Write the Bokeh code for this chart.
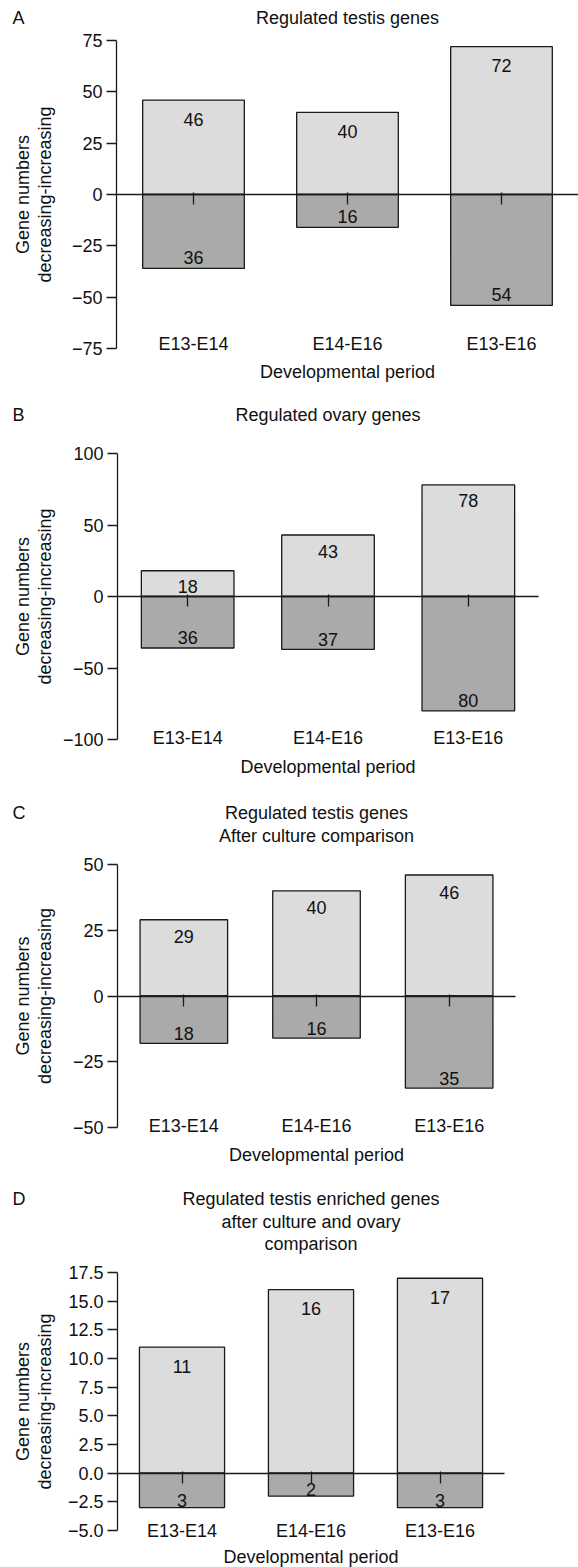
import math
from bokeh.plotting import figure
from bokeh.models import (Range1d, FixedTicker, CustomJSTickFormatter,
                          Label, LabelSet, ColumnDataSource)
from bokeh.layouts import column
from bokeh.embed import file_html
from bokeh.resources import INLINE
from bokeh.core.properties import value

# ---------------- data ----------------
periods = ["E13-E14", "E14-E16", "E13-E16"]
x_label = "Developmental period"
y_label_lines = ["Gene numbers", "decreasing-increasing"]

a_title = ["Regulated testis genes"]
a_up = [46, 40, 72]
a_down = [-36, -16, -54]
a_ticks = [-75, -50, -25, 0, 25, 50, 75]

b_title = ["Regulated ovary genes"]
b_up = [18, 43, 78]
b_down = [-36, -37, -80]
b_ticks = [-100, -50, 0, 50, 100]

c_title = ["Regulated testis genes", "After culture comparison"]
c_up = [29, 40, 46]
c_down = [-18, -16, -35]
c_ticks = [-50, -25, 0, 25, 50]

d_title = ["Regulated testis enriched genes", "after culture and ovary", "comparison"]
d_up = [11, 16, 17]
d_down = [-3, -2, -3]
d_ticks = [-5.0, -2.5, 0.0, 2.5, 5.0, 7.5, 10.0, 12.5, 15.0, 17.5]

# ---------------- style ----------------
FONT = "Liberation Sans"
FS = "18px"
TXT = "#111111"
LINE = "#1a1a1a"
UP_FILL = "#dcdcdc"
DOWN_FILL = "#aaaaaa"
PAGE_W = 578
BAR_W = 0.66


def panel(letter, title, up, down, ticks, dec, axis_x, fw, fig_top, fig_bottom,
          top, bottom, title_ys, xlab_gap, up_off, down_off, cat_off):
    n = len(periods)
    xs = [i + 0.5 for i in range(n)]
    H = fig_bottom - fig_top
    ymin, ymax = ticks[0], ticks[-1]
    ppx = fw / n
    ppy = (bottom - top) / (ymax - ymin)
    x_range = Range1d(-axis_x / ppx, (PAGE_W - axis_x) / ppx)
    y_range = Range1d(ymin - (fig_bottom - bottom) / ppy, ymax + (top - fig_top) / ppy)

    p = figure(x_range=x_range, y_range=y_range, width=PAGE_W, height=H,
               min_border_left=0, min_border_right=0, min_border_top=0,
               min_border_bottom=0, title=None, output_backend="svg",
               toolbar_location=None, tools="")
    p.outline_line_color = None
    p.xgrid.visible = False
    p.ygrid.visible = False
    p.background_fill_color = "white"
    p.border_fill_color = "white"

    p.vbar(x=xs, top=up, bottom=0, width=BAR_W, fill_color=UP_FILL,
           line_color=LINE, line_width=1.3)
    p.vbar(x=xs, top=0, bottom=down, width=BAR_W, fill_color=DOWN_FILL,
           line_color=LINE, line_width=1.3)

    p.text(x=xs, y=up, text=[str(v) for v in up], y_offset=up_off,
           text_font=value(FONT), text_font_size=FS, text_color=TXT,
           text_align="center", text_baseline="middle")
    p.text(x=xs, y=down, text=[str(abs(v)) for v in down], y_offset=down_off,
           text_font=value(FONT), text_font_size=FS, text_color=TXT,
           text_align="center", text_baseline="middle")

    # y axis, spanning only the tick range, at the left edge of the bar area
    ya = p.yaxis[0]
    ya.fixed_location = 0
    ya.bounds = (ymin, ymax)
    ya.ticker = FixedTicker(ticks=ticks)
    ya.formatter = CustomJSTickFormatter(
        code="const s = Math.abs(tick).toFixed(%d); return tick < 0 ? '\\u2212' + s : s;" % dec)
    ya.major_tick_out = 10
    ya.major_tick_in = 0
    ya.minor_tick_out = 0
    ya.minor_tick_in = 0
    ya.major_label_standoff = 4
    ya.axis_line_color = LINE
    ya.axis_line_width = 1.3
    ya.major_tick_line_color = LINE
    ya.major_tick_line_width = 1.3
    ya.major_label_text_font = FONT
    ya.major_label_text_font_size = FS
    ya.major_label_text_color = TXT

    # x axis drawn on the zero line, ticks at the bar centres, no labels
    xa = p.xaxis[0]
    xa.fixed_location = 0
    xa.bounds = (0, n)
    xa.ticker = FixedTicker(ticks=xs)
    xa.formatter = CustomJSTickFormatter(code="return '';")
    xa.major_tick_out = 10
    xa.major_tick_in = 2
    xa.minor_tick_out = 0
    xa.minor_tick_in = 0
    xa.axis_line_color = LINE
    xa.axis_line_width = 1.3
    xa.major_tick_line_color = LINE
    xa.major_tick_line_width = 1.3

    # category labels near the bottom of the value range
    src = ColumnDataSource(dict(x=xs, y=[ymin] * n, t=periods))
    p.add_layout(LabelSet(x="x", y="y", text="t", source=src, y_offset=cat_off,
                          text_font=value(FONT), text_font_size=value(FS),
                          text_color=value(TXT),
                          text_align="center", text_baseline="middle"))

    def lab(text, ax, ay, align="center", angle=0.0):
        p.add_layout(Label(x=ax, y=fig_bottom - ay, x_units="screen", y_units="screen",
                           text=text, text_font=FONT, text_font_size=FS,
                           text_color=TXT, text_align=align,
                           text_baseline="middle", angle=angle))

    cx = axis_x + fw / 2
    for t, yc in zip(title, title_ys):
        lab(t, cx, yc)
    lab(letter, 12, title_ys[0], align="left")
    mid = (top + bottom) / 2
    lab(y_label_lines[0], 22, mid, angle=math.pi / 2)
    lab(y_label_lines[1], 44, mid, angle=math.pi / 2)
    lab(x_label, cx, bottom + xlab_gap)
    return p


pA = panel("A", a_title, a_up, a_down, a_ticks, 0,
           axis_x=116, fw=462, fig_top=0, fig_bottom=395, top=40, bottom=348,
           title_ys=[17], xlab_gap=23, up_off=19, down_off=-11, cat_off=5)
pB = panel("B", b_title, b_up, b_down, b_ticks, 0,
           axis_x=117, fw=421, fig_top=395, fig_bottom=795, top=453, bottom=739,
           title_ys=[414], xlab_gap=27, up_off=16, down_off=-10, cat_off=2)
pC = panel("C", c_title, c_up, c_down, c_ticks, 0,
           axis_x=117, fw=398, fig_top=795, fig_bottom=1180, top=864, bottom=1127,
           title_ys=[812, 835], xlab_gap=27, up_off=17, down_off=-10, cat_off=2)
pD = panel("D", d_title, d_up, d_down, d_ticks, 1,
           axis_x=117, fw=387, fig_top=1180, fig_bottom=1567, top=1272, bottom=1530,
           title_ys=[1198, 1221.5, 1243.5], xlab_gap=26, up_off=19, down_off=-7, cat_off=0)

layout = column(pA, pB, pC, pD, spacing=0)
open("out.html", "w").write(file_html(layout, INLINE))
